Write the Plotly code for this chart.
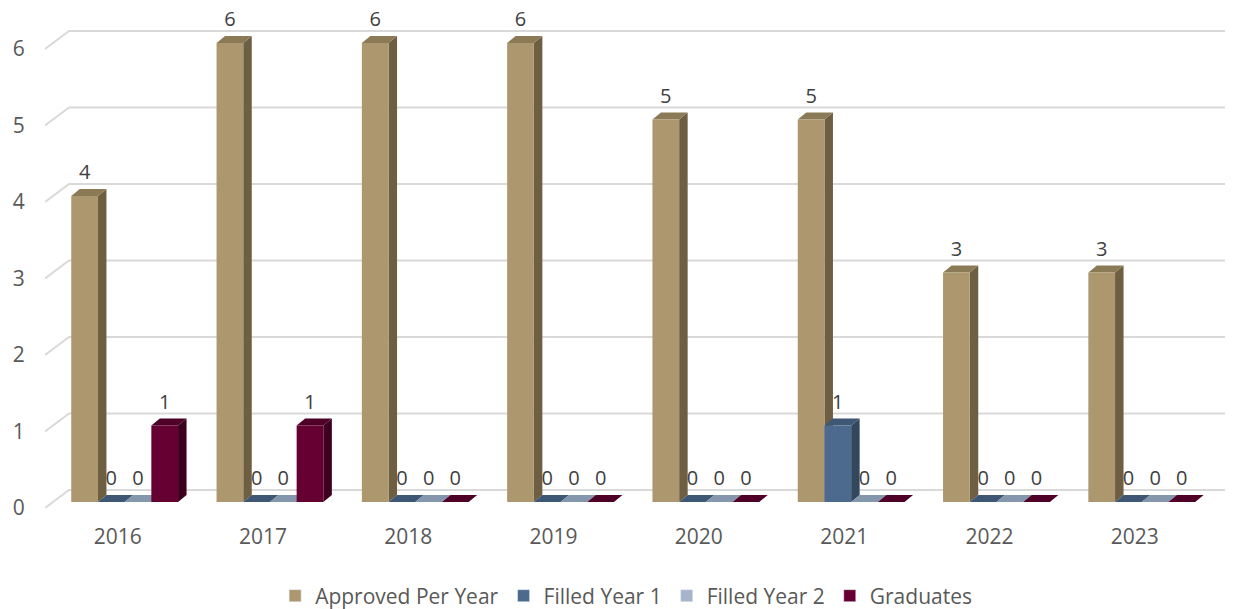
import plotly.graph_objects as go

# ---- data ----
years = ["2016", "2017", "2018", "2019", "2020", "2021", "2022", "2023"]
approved = [4, 6, 6, 6, 5, 5, 3, 3]
filled_year_1 = [0, 0, 0, 0, 0, 1, 0, 0]
filled_year_2 = [0, 0, 0, 0, 0, 0, 0, 0]
graduates = [1, 1, 0, 0, 0, 0, 0, 0]
y_ticks = [0, 1, 2, 3, 4, 5, 6]

series_names = ["Approved Per Year", "Filled Year 1", "Filled Year 2", "Graduates"]
series_values = [approved, filled_year_1, filled_year_2, graduates]
front_colors = ["#AD976E", "#4B6A8D", "#A6B5CA", "#660033"]
top_colors = ["#8B7A56", "#3E5774", "#8497AC", "#4E0027"]
side_colors = ["#6E5F43", "#32465E", "#7A8BA0", "#3D001F"]

# ---- geometry (pixel scale -> data units) ----
# page body has an 8px margin, so the figure is shrunk by that amount
W, H = 1225, 601
ML, MR, MT, MB = 37, 2, 0, 101
PX_X = 145.3          # pixels per category
PX_Y = 76.5           # pixels per y unit
x_lo = -0.5
x_hi = x_lo + (W - ML - MR) / PX_X
y_hi = (H - MT - MB) / PX_Y

DEPTH_X, DEPTH_Y = 24 / PX_X, 18 / PX_Y     # floor depth (front edge -> back wall)
BAR_DX, BAR_DY = 7 / PX_X, 6 / PX_Y         # bar front plane offset from floor front
SIDE_DX, SIDE_DY = 8.5 / PX_X, 7 / PX_Y     # bar depth
BW = 26.7 / PX_X                            # bar width
LABEL_GAP = 22 / PX_Y

FONT = "Open Sans"
FS = 21

fig = go.Figure()

# back wall gridlines with diagonal floor edges
gx, gy = [], []
for v in y_ticks:
    gx += [x_lo, x_lo + DEPTH_X, len(years) - 0.5 + DEPTH_X, None]
    gy += [v, v + DEPTH_Y, v + DEPTH_Y, None]
fig.add_trace(go.Scatter(x=gx, y=gy, mode="lines", line=dict(color="#D9D9D9", width=2),
                         hoverinfo="skip", showlegend=False))

n = len(series_values)
for j, vals in enumerate(series_values):
    sx, sy, tx, ty, fx, fy = [], [], [], [], [], []
    for i, v in enumerate(vals):
        xl = i + BAR_DX - (n / 2) * BW + j * BW
        xr = xl + BW
        b = BAR_DY
        t = BAR_DY + v
        if v > 0:
            sx += [xr, xr + SIDE_DX, xr + SIDE_DX, xr, xr, None]
            sy += [b, b + SIDE_DY, t + SIDE_DY, t, b, None]
            fx += [xl, xr, xr, xl, xl, None]
            fy += [b, b, t, t, b, None]
        tx += [xl, xr, xr + SIDE_DX, xl + SIDE_DX, xl, None]
        ty += [t, t, t + SIDE_DY, t + SIDE_DY, t, None]
    common = dict(mode="lines", line=dict(width=0), hoverinfo="skip", showlegend=False)
    if sx:
        fig.add_trace(go.Scatter(x=sx, y=sy, fill="toself", fillcolor=side_colors[j], **common))
    fig.add_trace(go.Scatter(x=tx, y=ty, fill="toself", fillcolor=top_colors[j], **common))
    if fx:
        fig.add_trace(go.Scatter(x=fx, y=fy, fill="toself", fillcolor=front_colors[j], **common))

# data labels
for j, vals in enumerate(series_values):
    lx = [i + BAR_DX - (n / 2) * BW + (j + 0.5) * BW for i in range(len(vals))]
    ly = [BAR_DY + v + LABEL_GAP for v in vals]
    fig.add_trace(go.Scatter(x=lx, y=ly, mode="text", text=[str(v) for v in vals],
                             textposition="middle center", cliponaxis=False,
                             textfont=dict(size=20, color="#404040", family=FONT),
                             hoverinfo="skip", showlegend=False))

# legend entries
for j, name in enumerate(series_names):
    fig.add_trace(go.Bar(x=[None], y=[None], name=name, marker_color=front_colors[j]))

fig.update_layout(
    width=W, height=H,
    margin=dict(l=ML, r=MR, t=MT, b=MB, autoexpand=False),
    paper_bgcolor="white", plot_bgcolor="white",
    font=dict(family=FONT, color="#595959", size=FS),
    showlegend=True,
    legend=dict(orientation="h", x=0.49, xanchor="center", y=-0.135, yanchor="top",
                font=dict(size=FS, color="#595959"), traceorder="normal"),
    xaxis=dict(range=[x_lo, x_hi], tickvals=list(range(len(years))), ticktext=years,
               showgrid=False, zeroline=False, showline=False, ticks="outside",
               ticklen=10, tickcolor="rgba(0,0,0,0)", tickfont=dict(size=FS)),
    yaxis=dict(range=[0, y_hi], tickvals=y_ticks, showgrid=False, zeroline=False,
               showline=False, ticks="outside", ticklen=15, tickcolor="rgba(0,0,0,0)",
               tickfont=dict(size=FS)),
)

fig.write_html("out.html")
